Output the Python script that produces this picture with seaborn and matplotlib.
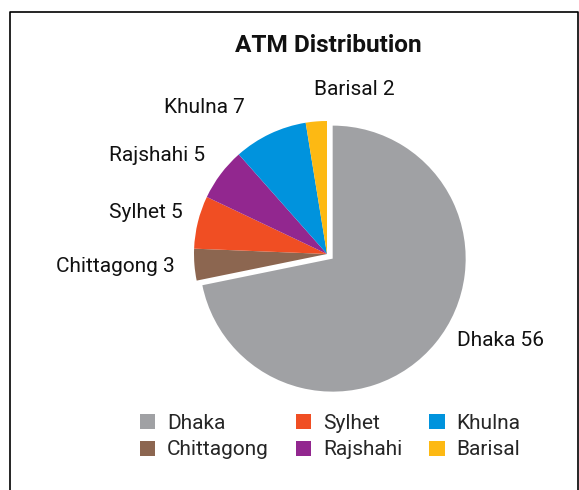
import numpy as np
import matplotlib
matplotlib.use("Agg")
import matplotlib.pyplot as plt
from matplotlib.lines import Line2D
from matplotlib.patches import Patch
import seaborn as sns

sns.set_theme(style="white")
plt.rcParams['font.family'] = ['Roboto', 'DejaVu Sans']

# data
divisions = ["Dhaka", "Chittagong", "Sylhet", "Rajshahi", "Khulna", "Barisal"]
atm_counts = [56, 3, 5, 5, 7, 2]
colors = ["#A0A1A4", "#8C6650", "#F04E23", "#92278F", "#0093DD", "#FDB913"]

# label placement (radius in pie units, angle tweak in degrees)
label_r = [1.12, 1.15, 1.13, 1.18, 1.26, 1.24]
label_dtheta = [6, 0, -2, -2, 4, 0]
label_ha = ["left", "right", "right", "right", "right", "left"]
explode = [0.055, 0, 0, 0, 0, 0]

fig = plt.figure(figsize=(5.79, 4.90), dpi=100)
ax = fig.add_axes([0, 0, 1, 1])

r_px = 133.0
cx, cy = 327.0, 490 - 254.0
wedges, _ = ax.pie(atm_counts, colors=colors, startangle=90, counterclock=False,
                   explode=explode, radius=1, wedgeprops=dict(linewidth=0))

for w, lab, n, r, dt, ha in zip(wedges, divisions, atm_counts, label_r, label_dtheta, label_ha):
    mid = np.deg2rad((w.theta1 + w.theta2) / 2 + dt)
    x0, y0 = w.center
    ax.text(x0 + r * np.cos(mid), y0 + r * np.sin(mid), f"{lab} {n}",
            ha=ha, va="center", fontsize=15, color="#111111")

ax.set_xlim(-cx / r_px, (579 - cx) / r_px)
ax.set_ylim(-cy / r_px, (490 - cy) / r_px)
ax.set_aspect("auto")
ax.axis("off")

fig.text(328 / 579, 1 - 45.5 / 490, "ATM Distribution", ha="center", va="center",
         fontsize=17.6, fontweight="bold", color="#111111")

handles = [Patch(facecolor=c, edgecolor="none") for c in colors]
fig.legend(handles, divisions, ncol=3, loc="center", bbox_to_anchor=(330 / 579, 1 - 436.5 / 490),
           frameon=False, fontsize=15, handlelength=0.75, handleheight=0.75,
           handletextpad=0.55, columnspacing=1.3, labelspacing=0.38)

# open frame around the chart
fx0, fx1, fy1 = 9.5 / 579, 578 / 579, 1 - 12 / 490
fig.add_artist(Line2D([fx0, fx0, fx1, fx1], [0, fy1, fy1, 0], transform=fig.transFigure,
                      color="black", lw=1.2))

fig.savefig("out.png", dpi=100)
